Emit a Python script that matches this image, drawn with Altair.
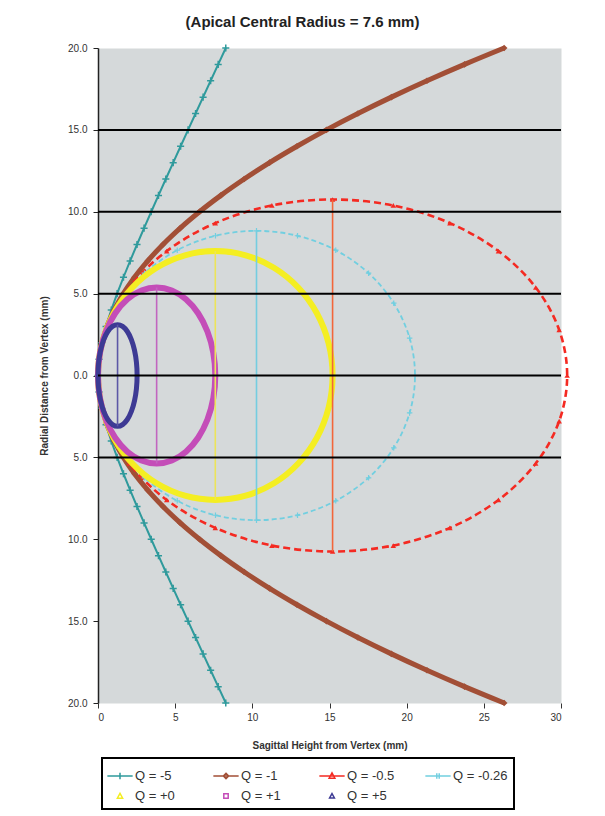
import altair as alt
import pandas as pd

# ---------------- data ----------------
series_labels = ["Q = -5", "Q = -1", "Q = -0.5", "Q = -0.26", "Q = +0", "Q = +1", "Q = +5"]

# open curves (hyperbola Q=-5, parabola Q=-1), sampled by radial distance
radial_open = [-20, -19, -18, -17, -16, -15, -14, -13, -12, -11, -10, -9, -8, -7, -6, -5, -4, -3, -2, -1,
               0, 1, 2, 3, 4, 5, 6, 7, 8, 9, 10, 11, 12, 13, 14, 15, 16, 17, 18, 19, 20]
qm5_sag = [8.279, 7.788, 7.298, 6.810, 6.323, 5.837, 5.353, 4.872, 4.394, 3.919, 3.449, 2.985, 2.528, 2.083,
           1.651, 1.240, 0.859, 0.521, 0.247, 0.065, 0.0, 0.065, 0.247, 0.521, 0.859, 1.240, 1.651, 2.083,
           2.528, 2.985, 3.449, 3.919, 4.394, 4.872, 5.353, 5.837, 6.323, 6.810, 7.298, 7.788, 8.279]
qm1_sag = [26.316, 23.750, 21.316, 19.013, 16.842, 14.803, 12.895, 11.118, 9.474, 7.961, 6.579, 5.329, 4.211,
           3.224, 2.368, 1.645, 1.053, 0.592, 0.263, 0.066, 0.0, 0.066, 0.263, 0.592, 1.053, 1.645, 2.368,
           3.224, 4.211, 5.329, 6.579, 7.961, 9.474, 11.118, 12.895, 14.803, 16.842, 19.013, 21.316, 23.750, 26.316]

# closed curves (ellipses), points going round from the vertex
qm05_sag = [0, 0.518, 2.037, 4.452, 7.600, 11.266, 15.200, 19.134, 22.800, 25.948, 28.363, 29.882, 30.400,
            29.882, 28.363, 25.948, 22.800, 19.134, 15.200, 11.266, 7.600, 4.452, 2.037, 0.518]
qm05_rad = [0, 2.782, 5.374, 7.600, 9.308, 10.382, 10.748, 10.382, 9.308, 7.600, 5.374, 2.782, 0,
            -2.782, -5.374, -7.600, -9.308, -10.382, -10.748, -10.382, -9.308, -7.600, -5.374, -2.782]
qm026_sag = [0, 0.350, 1.376, 3.008, 5.135, 7.612, 10.270, 12.928, 15.405, 17.532, 19.164, 20.190, 20.540,
             20.190, 19.164, 17.532, 15.405, 12.928, 10.270, 7.612, 5.135, 3.008, 1.376, 0.350]
qm026_rad = [0, 2.287, 4.418, 6.247, 7.651, 8.534, 8.835, 8.534, 7.651, 6.247, 4.418, 2.287, 0,
             -2.287, -4.418, -6.247, -7.651, -8.534, -8.835, -8.534, -7.651, -6.247, -4.418, -2.287]
q0_sag = [0, 0.259, 1.018, 2.226, 3.800, 5.633, 7.600, 9.567, 11.400, 12.974, 14.182, 14.941, 15.200,
          14.941, 14.182, 12.974, 11.400, 9.567, 7.600, 5.633, 3.800, 2.226, 1.018, 0.259]
q0_rad = [0, 1.967, 3.800, 5.374, 6.582, 7.341, 7.600, 7.341, 6.582, 5.374, 3.800, 1.967, 0,
          -1.967, -3.800, -5.374, -6.582, -7.341, -7.600, -7.341, -6.582, -5.374, -3.800, -1.967]
qp1_sag = [0, 0.130, 0.509, 1.113, 1.900, 2.817, 3.800, 4.783, 5.700, 6.487, 7.091, 7.470, 7.600,
           7.470, 7.091, 6.487, 5.700, 4.783, 3.800, 2.817, 1.900, 1.113, 0.509, 0.130]
qp1_rad = [0, 1.391, 2.687, 3.800, 4.654, 5.191, 5.374, 5.191, 4.654, 3.800, 2.687, 1.391, 0,
           -1.391, -2.687, -3.800, -4.654, -5.191, -5.374, -5.191, -4.654, -3.800, -2.687, -1.391]
qp5_sag = [0, 0.043, 0.170, 0.371, 0.633, 0.939, 1.267, 1.594, 1.900, 2.162, 2.364, 2.490, 2.533,
           2.490, 2.364, 2.162, 1.900, 1.594, 1.267, 0.939, 0.633, 0.371, 0.170, 0.043]
qp5_rad = [0, 0.803, 1.551, 2.194, 2.687, 2.997, 3.103, 2.997, 2.687, 2.194, 1.551, 0.803, 0,
           -0.803, -1.551, -2.194, -2.687, -2.997, -3.103, -2.997, -2.687, -2.194, -1.551, -0.803]

# vertical chords through the widest part of each ellipse
chord_series = ["Q = -0.5", "Q = -0.26", "Q = +0", "Q = +1", "Q = +5"]
chord_sag = [15.2, 10.27, 7.6, 3.8, 1.267]
chord_top = [10.748, 8.835, 7.6, 5.374, 3.103]
chord_bottom = [-10.748, -8.835, -7.6, -5.374, -3.103]

grid_levels = [15, 10, 5, 0, -5]
y_ticks = [20, 15, 10, 5, 0, -5, -10, -15, -20]
x_ticks = [0, 5, 10, 15, 20, 25, 30]

# ---------------- styles ----------------
colors = {
    "Q = -5": "#2f9a9c", "Q = -1": "#a24f36", "Q = -0.5": "#f42a22", "Q = -0.26": "#72cfe0",
    "Q = +0": "#f4ee22", "Q = +1": "#c44db8", "Q = +5": "#3d3a94",
}
chord_colors = {"Q = -0.5": "#f2663a", "Q = -0.26": "#74cde0", "Q = +0": "#ece45a",
                "Q = +1": "#c266c0", "Q = +5": "#5c58a6"}
legend_paths = [
    "M-1.15,0H1.15M0,-0.3V0.3",
    "M-1.15,0H1.15M0,-0.24L0.24,0L0,0.24L-0.24,0Z",
    "M-1.15,0H1.15M0,-0.28L0.26,0.2L-0.26,0.2Z",
    "M-1.15,0H1.15M-0.11,-0.26V0.26M0.11,-0.26V0.26",
    "M0,-0.24L0.24,0.2L-0.24,0.2Z",
    "M-0.2,-0.2H0.2V0.2H-0.2Z",
    "M0,-0.22L0.22,0.18L-0.22,0.18Z",
]
FONT = "Liberation Sans"

xs = alt.Scale(domain=[0, 30], nice=False)
ys = alt.Scale(domain=[-20, 20], nice=False)
X_TITLE = "Sagittal Height from Vertex (mm)"
Y_TITLE = "Radial Distance from Vertex (mm)"
x_axis = alt.Axis(values=x_ticks, format="d", grid=False, domain=False, tickColor="#333",
                  tickSize=5, labelFont=FONT, labelFontSize=10, labelColor="#333",
                  labelPadding=4, titleFont=FONT, titleFontSize=10, titleFontWeight="bold",
                  titleColor="#333", titlePadding=18)
y_axis = alt.Axis(values=y_ticks, labelExpr="format(abs(datum.value), '.1f')", grid=False,
                  domainColor="#222", domainWidth=1.5, tickColor="#222", tickSize=5,
                  labelFont=FONT, labelFontSize=10, labelColor="#333", labelPadding=6,
                  titleFont=FONT, titleFontSize=10, titleFontWeight="bold", titleColor="#333",
                  titlePadding=18)


def X(field):
    return alt.X(field, scale=xs, title=X_TITLE, axis=x_axis)


def Y(field):
    return alt.Y(field, scale=ys, title=Y_TITLE, axis=y_axis)


def frame(z, y):
    return pd.DataFrame({"i": list(range(len(z))), "z": z, "y": y})


def enc(ch):
    return ch.encode(x=X("z:Q"), y=Y("y:Q"), order="i:O")


def curve(label, z, y, width, interp, dash=None):
    kw = dict(color=colors[label], strokeWidth=width, interpolate=interp)
    if dash:
        kw["strokeDash"] = dash
    return enc(alt.Chart(frame(z, y)).mark_line(**kw))


def markers(label, z, y, shape, size, filled, sw=1.0):
    return enc(alt.Chart(frame(z, y)).mark_point(
        shape=shape, size=size, filled=filled, color=colors[label], strokeWidth=sw, opacity=1))


layers = []
layers.append(curve("Q = -5", qm5_sag, radial_open, 2, "linear"))
layers.append(markers("Q = -5", qm5_sag, radial_open, "M-1,0H1M0,-1V1", 50, False, 1.5))
layers.append(curve("Q = -1", qm1_sag, radial_open, 5, "monotone"))
layers.append(markers("Q = -1", qm1_sag, radial_open, "diamond", 45, True))
layers.append(curve("Q = -0.5", qm05_sag, qm05_rad, 2.6, "cardinal-closed", [7, 4]))
layers.append(markers("Q = -0.5", qm05_sag, qm05_rad, "triangle-up", 30, True))
layers.append(curve("Q = -0.26", qm026_sag, qm026_rad, 1.8, "cardinal-closed", [5, 3]))
layers.append(markers("Q = -0.26", qm026_sag, qm026_rad, "M-1,0H1M0,-1V1", 30, False, 1.2))
layers.append(curve("Q = +0", q0_sag, q0_rad, 6, "cardinal-closed"))
layers.append(curve("Q = +1", qp1_sag, qp1_rad, 6, "cardinal-closed"))
layers.append(curve("Q = +5", qp5_sag, qp5_rad, 5, "cardinal-closed"))

chord_df = pd.DataFrame({"series": chord_series, "z": chord_sag, "top": chord_top, "bottom": chord_bottom,
                         "c": [chord_colors[s] for s in chord_series]})
layers.append(alt.Chart(chord_df).mark_rule(strokeWidth=1.6).encode(
    x=X("z:Q"), y=Y("top:Q"), y2="bottom:Q",
    color=alt.Color("c:N", scale=None),
))

grid_df = pd.DataFrame({"level": grid_levels})
layers.append(alt.Chart(grid_df).mark_rule(color="black", strokeWidth=2).encode(y=Y("level:Q")))

leg = alt.Legend(orient="none", legendX=4, legendY=710, columns=4, direction="horizontal",
                 gridAlign="all", title=None,
                 symbolSize=484, symbolStrokeWidth=1.5, labelFont=FONT, labelFontSize=13,
                 labelColor="#333", labelOffset=3, columnPadding=20, rowPadding=1, padding=6,
                 strokeColor="black")
leg_df = pd.DataFrame({"series": series_labels})
sc = alt.Scale(domain=series_labels, range=[colors[s] for s in series_labels])
layers.append(alt.Chart(leg_df).mark_point(filled=True, opacity=0).encode(
    fill=alt.Fill("series:N", scale=sc, legend=leg),
    stroke=alt.Stroke("series:N", scale=sc, legend=leg),
    shape=alt.Shape("series:N", scale=alt.Scale(domain=series_labels, range=legend_paths), legend=leg),
))

chart = alt.layer(*layers).properties(
    width=463, height=655,
    view=alt.ViewBackground(fill="#d5d9da", stroke="transparent"),
    title=alt.TitleParams("(Apical Central Radius = 7.6 mm)", font=FONT, fontSize=15, fontWeight="bold",
                          color="#222", dx=-27, offset=8),
    padding={"left": 31, "top": 7, "right": 10, "bottom": 5},
).configure_legend(strokeWidth=2)

chart.save("out.html", embed_options={"renderer": "svg", "actions": False})
